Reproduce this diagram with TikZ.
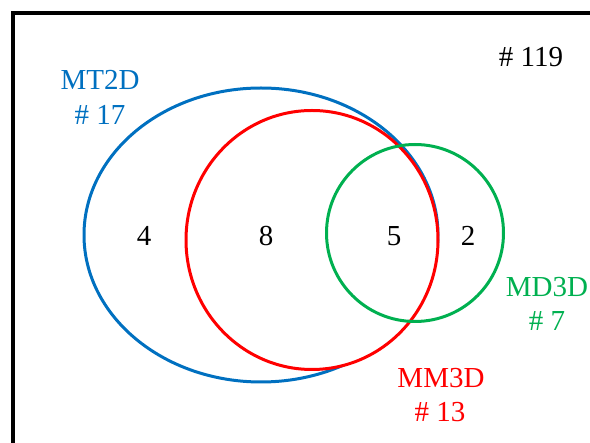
\documentclass[tikz,border=0pt]{standalone}
\usepackage{fontspec}
\setmainfont{Liberation Serif}
\definecolor{setblue}{HTML}{0070C0}
\definecolor{setred}{HTML}{FF0000}
\definecolor{setgreen}{HTML}{00B050}
\begin{document}
\begin{tikzpicture}[x=1pt,y=-1pt,
  setline/.style={line width=3pt},
  lbl/.style={anchor=base,inner sep=0pt,font=\fontsize{29}{35}\selectfont}]
\useasboundingbox (0,0) rectangle (590,443);
% outer frame (runs off the right and bottom)
\draw[line width=4pt,line cap=rect] (13,445) -- (13,13) -- (592,13);
% MT2D set: its lower right arc lies under the MM3D circle
\begin{scope}[even odd rule]
  \clip (0,0) rectangle (590,443)
    (312,240) ellipse [x radius=126,y radius=129.5];
  \draw[setline,setblue] (261,235) ellipse [x radius=177,y radius=147];
\end{scope}
% MM3D and MD3D sets
\draw[setline,setred] (312,240) ellipse [x radius=126,y radius=129.5];
\draw[setline,setgreen] (415,233) circle [radius=88.5];
% total
\node[lbl] (total) at (531,67) {\# 119};
% set labels
\node[lbl,text=setblue] (mtname) at (100,90) {MT2D};
\node[lbl,text=setblue] (mtnum) at (100,125) {\# 17};
\node[lbl,text=setgreen] (mdname) at (547,297) {MD3D};
\node[lbl,text=setgreen] (mdnum) at (547,331) {\# 7};
\node[lbl,text=setred] (mmname) at (441,388) {MM3D};
\node[lbl,text=setred] (mmnum) at (440,422) {\# 13};
% region counts
\node[lbl] (onlymt) at (144,246) {4};
\node[lbl] (mtmm) at (266,246) {8};
\node[lbl] (allthree) at (394,246) {5};
\node[lbl] (mdonly) at (468,246) {2};
\end{tikzpicture}
\end{document}
